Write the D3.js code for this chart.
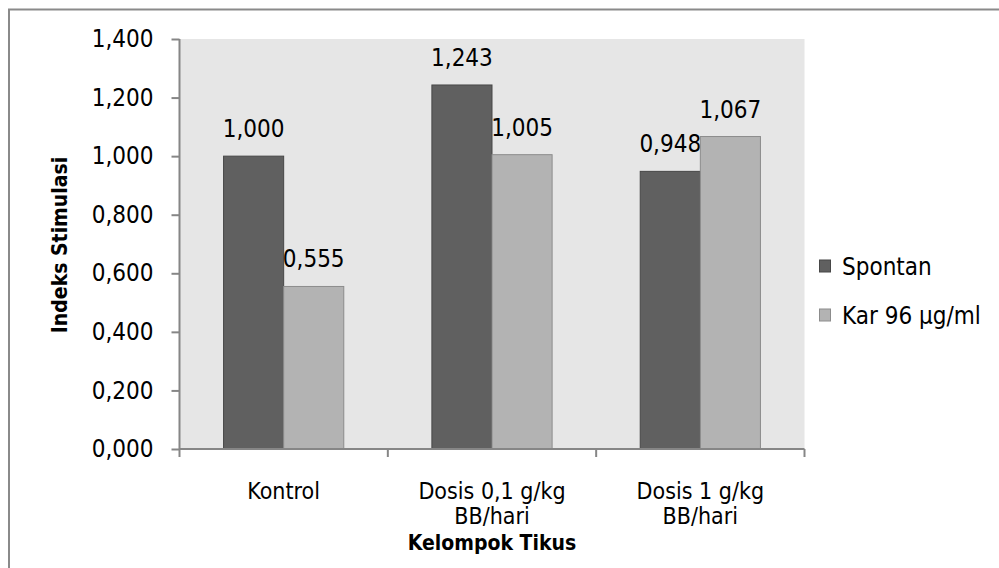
<!DOCTYPE html>
<html><head><meta charset="utf-8">
<script src="https://cdn.jsdelivr.net/npm/d3@7"></script>
<style>
body{margin:0;background:#fff;}
text{font-family:"DejaVu Sans Condensed","DejaVu Sans",sans-serif;font-stretch:condensed;fill:#000;}
</style></head><body>
<svg id="c" width="999" height="568"></svg>
<script>
const categories = [["Kontrol"], ["Dosis 0,1 g/kg", "BB/hari"], ["Dosis 1 g/kg", "BB/hari"]];
const seriesNames = ["Spontan", "Kar 96 μg/ml"];
const spontan = [1.000, 1.243, 0.948];
const kar = [0.555, 1.005, 1.067];
const yTicks = [0, 0.2, 0.4, 0.6, 0.8, 1.0, 1.2, 1.4];
const colors = ["#606060", "#b3b3b3"];
const strokes = ["#474747", "#8c8c8c"];

const svg = d3.select("#c");
const fmt = v => d3.format(".3f")(v).replace(".", ",");
const FS = 24;
// outer border
svg.append("rect").attr("x", 9).attr("y", 9.5).attr("width", 1100).attr("height", 700)
  .attr("fill", "none").attr("stroke", "#8a8a8a").attr("stroke-width", 2);

const L = 179.5, R = 804.5, T = 39, B = 449;
const x = d3.scaleBand().domain(d3.range(categories.length)).range([L, R]).padding(0);
const y = d3.scaleLinear().domain([0, 1.4]).range([B, T]);
const xs = d3.scaleBand().domain([0, 1]).range([0, x.bandwidth()]).paddingOuter(0.733).paddingInner(0);

svg.append("rect").attr("x", L).attr("y", T).attr("width", R - L).attr("height", B - T).attr("fill", "#e6e6e6");

const data = categories.map((c, i) => ({i, vals: [spontan[i], kar[i]]}));
const g = svg.append("g");
data.forEach(d => {
  d.vals.forEach((v, s) => {
    g.append("rect")
      .attr("x", x(d.i) + xs(s)).attr("y", y(v))
      .attr("width", xs.bandwidth()).attr("height", y(0) - y(v))
      .attr("fill", colors[s]).attr("stroke", strokes[s]).attr("stroke-width", 1);
    g.append("text")
      .attr("x", x(d.i) + xs(s) + xs.bandwidth() / 2).attr("y", y(v) - 19)
      .attr("text-anchor", "middle").attr("font-size", FS).text(fmt(v));
  });
});

// y axis
const yAxis = d3.axisLeft(y).tickValues(yTicks).tickSize(8).tickPadding(18)
  .tickFormat(v => fmt(v));
const ya = svg.append("g").attr("transform", `translate(${L},0)`).call(yAxis);
ya.selectAll("text").attr("font-size", FS).attr("fill", "#000").attr("font-family", null);
ya.selectAll("line,path").attr("stroke", "#868686").attr("stroke-width", 2);
ya.select(".domain").attr("d", `M0,${T}V${B}`);

// x axis
const xa = svg.append("g").attr("transform", `translate(0,${B})`);
xa.append("line").attr("x1", L).attr("x2", R).attr("stroke", "#868686").attr("stroke-width", 2);
d3.range(categories.length + 1).forEach(i => {
  const px = i < categories.length ? x(i) : R;
  xa.append("line").attr("x1", px).attr("x2", px).attr("y1", 0).attr("y2", 8)
    .attr("stroke", "#868686").attr("stroke-width", 2);
});
categories.forEach((c, i) => {
  c.forEach((line, k) => xa.append("text").attr("text-anchor", "middle").attr("font-size", FS - 1)
    .attr("x", x(i) + x.bandwidth() / 2).attr("y", 50 + k * 25).text(line));
});

// axis titles
svg.append("text").attr("x", (L + R) / 2).attr("y", 550).attr("text-anchor", "middle")
  .attr("font-size", 21).attr("font-weight", "bold").text("Kelompok Tikus");
svg.append("text").attr("transform", `translate(67,${(T + B) / 2 + 1}) rotate(-90)`)
  .attr("text-anchor", "middle").attr("font-size", 21).attr("font-weight", "bold").text("Indeks Stimulasi");

// legend
const lg = svg.append("g");
seriesNames.forEach((n, s) => {
  const cy = 266 + s * 49;
  lg.append("rect").attr("x", 819.5).attr("y", cy - 6).attr("width", 11).attr("height", 12)
    .attr("fill", colors[s]).attr("stroke", strokes[s]);
  lg.append("text").attr("x", 842).attr("y", cy + 9).attr("font-size", FS).text(n);
});
</script></body></html>
